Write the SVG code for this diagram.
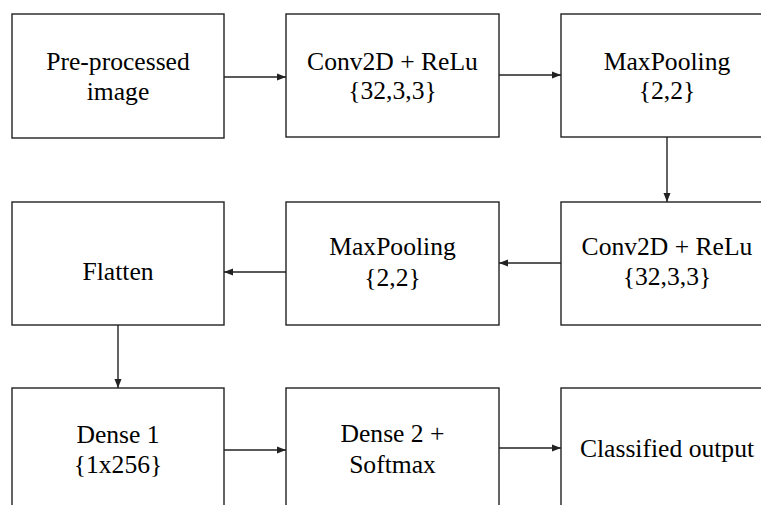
<svg xmlns="http://www.w3.org/2000/svg" width="761" height="505" viewBox="0 0 761 505">
<defs>
<marker id="ah" markerUnits="userSpaceOnUse" markerWidth="10" markerHeight="8" refX="9" refY="4" orient="auto">
<path d="M0,0.5 L9,4 L0,7.5 Z" fill="#222"/>
</marker>
</defs>
<rect width="761" height="505" fill="#fff"/>
<g id="n1"><rect x="12" y="14" width="212" height="124" fill="#fff" stroke="#222" stroke-width="1.4"/><text x="118" y="70" font-family="Liberation Serif" font-size="25.6" text-anchor="middle">Pre-processed</text><text x="118" y="100" font-family="Liberation Serif" font-size="25.6" text-anchor="middle">image</text></g>
<g id="n2"><rect x="286" y="14" width="213" height="123" fill="#fff" stroke="#222" stroke-width="1.4"/><text x="392.5" y="70" font-family="Liberation Serif" font-size="25.6" text-anchor="middle">Conv2D + ReLu</text><text x="392.5" y="99" font-family="Liberation Serif" font-size="25.6" text-anchor="middle">{32,3,3}</text></g>
<g id="n3"><rect x="561" y="14" width="213" height="123" fill="#fff" stroke="#222" stroke-width="1.4"/><text x="667" y="70" font-family="Liberation Serif" font-size="25.6" text-anchor="middle">MaxPooling</text><text x="667" y="99" font-family="Liberation Serif" font-size="25.6" text-anchor="middle">{2,2}</text></g>
<g id="n4"><rect x="561" y="202" width="213" height="123" fill="#fff" stroke="#222" stroke-width="1.4"/><text x="667" y="255" font-family="Liberation Serif" font-size="25.6" text-anchor="middle">Conv2D + ReLu</text><text x="667" y="285" font-family="Liberation Serif" font-size="25.6" text-anchor="middle">{32,3,3}</text></g>
<g id="n5"><rect x="286" y="202" width="213" height="123" fill="#fff" stroke="#222" stroke-width="1.4"/><text x="392.5" y="255" font-family="Liberation Serif" font-size="25.6" text-anchor="middle">MaxPooling</text><text x="392.5" y="286" font-family="Liberation Serif" font-size="25.6" text-anchor="middle">{2,2}</text></g>
<g id="n6"><rect x="12" y="202" width="212" height="123" fill="#fff" stroke="#222" stroke-width="1.4"/><text x="118" y="280" font-family="Liberation Serif" font-size="25.6" text-anchor="middle">Flatten</text></g>
<g id="n7"><rect x="12" y="388" width="212" height="130" fill="#fff" stroke="#222" stroke-width="1.4"/><text x="118" y="443" font-family="Liberation Serif" font-size="25.6" text-anchor="middle">Dense 1</text><text x="118" y="473" font-family="Liberation Serif" font-size="25.6" text-anchor="middle">{1x256}</text></g>
<g id="n8"><rect x="286" y="388" width="213" height="130" fill="#fff" stroke="#222" stroke-width="1.4"/><text x="392.5" y="442" font-family="Liberation Serif" font-size="25.6" text-anchor="middle">Dense 2 +</text><text x="392.5" y="473" font-family="Liberation Serif" font-size="25.6" text-anchor="middle">Softmax</text></g>
<g id="n9"><rect x="561" y="388" width="213" height="130" fill="#fff" stroke="#222" stroke-width="1.4"/><text x="667" y="457" font-family="Liberation Serif" font-size="25.6" text-anchor="middle">Classified output</text></g>
<g id="connectors" stroke="#222" stroke-width="1.4" fill="none" marker-end="url(#ah)">
<line x1="224" y1="77" x2="286" y2="77"/>
<line x1="499" y1="75" x2="561" y2="75"/>
<line x1="667" y1="137" x2="667" y2="202"/>
<line x1="561" y1="263" x2="499" y2="263"/>
<line x1="286" y1="272" x2="224" y2="272"/>
<line x1="118" y1="325" x2="118" y2="388"/>
<line x1="224" y1="450" x2="286" y2="450"/>
<line x1="499" y1="448" x2="561" y2="448"/>
</g>
</svg>
